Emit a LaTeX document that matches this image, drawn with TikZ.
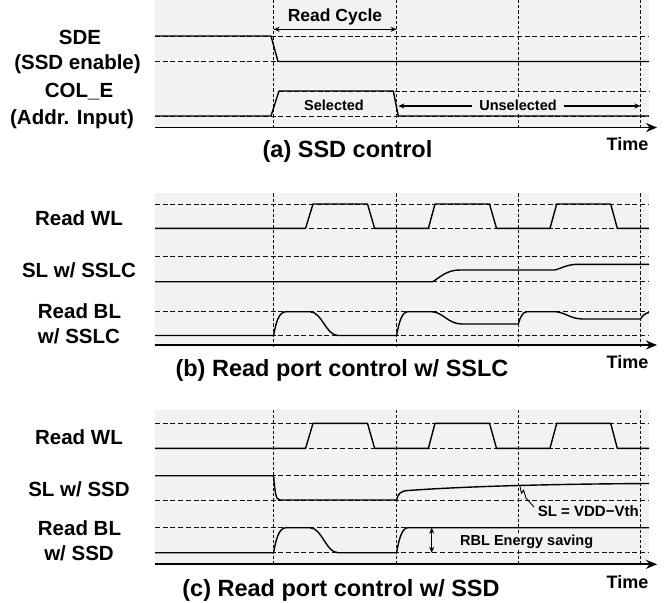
\documentclass[tikz,border=0pt]{standalone}
\usepackage{fontspec}
\setmainfont{Liberation Sans}
\usetikzlibrary{arrows.meta}
\definecolor{bggray}{HTML}{F2F2F2}
\definecolor{gridc}{HTML}{111111}
\tikzset{
  panel/.style={fill=bggray, draw=none},
  hgrid/.style={draw=gridc, line width=1pt, dash pattern=on 5pt off 2.7pt},
  vgrid/.style={draw=gridc, line width=0.85pt, dash pattern=on 3.2pt off 2pt},
  sig/.style={draw=black, line width=1.4pt, line join=round},
  thinsig/.style={draw=black, line width=0.9pt, line join=round},
  axisline/.style={draw=black, line width=1.8pt, -{Stealth[length=11pt,width=9pt]}},
  lbl/.style={font=\fontsize{20.5}{23}\selectfont\bfseries, inner sep=0pt, anchor=base},
  capt/.style={font=\fontsize{23.5}{26}\selectfont\bfseries, inner sep=0pt, anchor=base},
  timel/.style={font=\fontsize{18}{20}\selectfont\bfseries, inner sep=0pt, anchor=base},
  smalll/.style={font=\fontsize{14.5}{16}\selectfont\bfseries, inner sep=0pt, anchor=base},
  dimarrow/.style={line width=1.2pt, {Stealth[length=6pt,width=5pt]}-{Stealth[length=6pt,width=5pt]}},
}
\begin{document}
\begin{tikzpicture}[x=1pt,y=-1pt]
\useasboundingbox (0,0) rectangle (665,603);

% ---------- panels ----------
\fill[panel] (155,0) rectangle (649,127.5);
\fill[panel] (155,193.3) rectangle (649,345);
\fill[panel] (155,410) rectangle (649,564.3);

% ---------- vertical grid ----------
\foreach \x in {273.6,396.6,518.4,640.5}{
  \draw[vgrid] (\x,0) -- (\x,129.5);
  \draw[vgrid] (\x,193.3) -- (\x,347);
  \draw[vgrid] (\x,410) -- (\x,566);
}

% ---------- horizontal grid ----------
\foreach \y in {36,61.5,116,204,228.3,256.9,281.7,311.7,335.5,423.3,448.3,475.7,500,527.7,552.7}{
  \draw[hgrid] (155,\y) -- (649,\y);
}
\draw[hgrid] (279,91) -- (649,91);

% ---------- (a) SSD control ----------
\draw[sig] (155,36) -- (271,36) -- (278,61.5) -- (649,61.5);
\draw[sig] (155,116) -- (271,116) -- (279,91) -- (393.3,91) -- (398.3,116) -- (649,116);

\coordinate (rcL) at (273.6,29.3);
\coordinate (rcR) at (396.6,29.3);
\draw[dimarrow] (rcL) -- (rcR);
\node[font=\fontsize{17.5}{20}\selectfont\bfseries, inner sep=0pt, anchor=base] (readcycle) at (335,21.7) {Read Cycle};

\node[smalll] (selected) at (334,110) {Selected};
\coordinate (usL) at (398.3,106);
\coordinate (usR) at (640.5,106);
\draw[dimarrow] (usL) -- (usR);
\node[smalll, fill=bggray, inner xsep=7pt, inner ysep=2pt] (unselected) at (518,110.5) {Unselected};

\node[lbl] (sde) at (80,44) {SDE};
\node[lbl] (sden) at (77.5,69.6) {(SSD enable)};
\node[lbl] (cole) at (79,97.5) {COL\_E};
\node[lbl] (addr) at (72,124) {(Addr. Input)};

\coordinate (axAs) at (155,127.5);
\coordinate (axAe) at (657,127.5);
\draw[axisline] (axAs) -- (axAe);
\node[timel] (timeA) at (627.5,150.5) {Time};
\node[capt] (captA) at (347.5,157.3) {(a) SSD control};

% ---------- (b) Read port control w/ SSLC ----------
\draw[sig] (155,228.3) -- (305.6,228.3) -- (313,204) -- (367.5,204) -- (374.6,228.3)
  -- (428.4,228.3) -- (435,204) -- (489.5,204) -- (496.5,228.3)
  -- (550,228.3) -- (556.7,204) -- (610.7,204) -- (617.3,228.3) -- (649,228.3);

\draw[sig] (155,281.7) -- (432.7,281.7) .. controls (441,276.5) and (447,270) .. (460,270)
  -- (555,270) .. controls (563,267.5) and (568,264.3) .. (578.3,264.3) -- (649,264.3);

\draw[sig] (155,335.5) -- (273.6,335.5) .. controls (276,322) and (279,311.7) .. (286,311.7)
  -- (310,311.7) .. controls (322,312) and (326,335.5) .. (338,335.5)
  -- (396.6,335.5) .. controls (399,322) and (402,311.7) .. (408,311.7)
  -- (431.7,311.7) .. controls (443,312) and (448,324) .. (462,324)
  -- (518.4,324) .. controls (520,317) and (523,311.7) .. (527,311.7)
  -- (555,311.7) .. controls (565,312) and (570,319) .. (583,319)
  -- (640.5,319) .. controls (643,315) and (646,313) .. (649,312.5);

\node[lbl] (wlB) at (79,225) {Read WL};
\node[lbl] (slB) at (79,277.3) {SL w/ SSLC};
\node[lbl] (blB) at (79.5,318.3) {Read BL};
\node[lbl] (blB2) at (79,343.3) {w/ SSLC};

\coordinate (axBs) at (155,345);
\coordinate (axBe) at (657,345);
\draw[axisline] (axBs) -- (axBe);
\node[timel] (timeB) at (627.5,368.5) {Time};
\node[capt] (captB) at (342,376.5) {(b) Read port control w/ SSLC};

% ---------- (c) Read port control w/ SSD ----------
\draw[sig] (155,448.3) -- (305.6,448.3) -- (313,423.3) -- (367.5,423.3) -- (374.6,448.3)
  -- (428.4,448.3) -- (435,423.3) -- (489.5,423.3) -- (496.5,448.3)
  -- (550,448.3) -- (556.7,423.3) -- (610.7,423.3) -- (617.3,448.3) -- (649,448.3);

\draw[sig] (155,475.7) -- (273.6,475.7) .. controls (275,492) and (275.5,500) .. (280,500)
  -- (396.6,500) .. controls (398,494) and (400,491) .. (408,490.5)
  .. controls (470,486) and (560,484) .. (649,483.5);

\draw[thinsig] (519.8,485.5) -- (521.5,493.5) -- (523.5,490) -- (526,498) -- (534,507);

\draw[sig] (155,552.7) -- (273.6,552.7) .. controls (276,539) and (279,527.7) .. (286,527.7)
  -- (310,527.7) .. controls (322,528) and (326,552.7) .. (338,552.7)
  -- (396.6,552.7) .. controls (399,539) and (402,527.7) .. (408,527.7) -- (649,527.7);

\coordinate (rblT) at (431.7,527.7);
\coordinate (rblB) at (431.7,552.7);
\draw[dimarrow] (rblT) -- (rblB);
\node[smalll, fill=bggray, inner sep=1pt, anchor=base] (rbl) at (526.7,545) {RBL Energy saving};
\node[font=\fontsize{15}{17}\selectfont\bfseries, inner sep=0pt, anchor=base] (vth) at (588.3,516.7) {SL = VDD−Vth};

\node[lbl] (wlC) at (79,444) {Read WL};
\node[lbl] (slC) at (79,496.7) {SL w/ SSD};
\node[lbl] (blC) at (79.5,535) {Read BL};
\node[lbl] (blC2) at (79,560.3) {w/ SSD};

\coordinate (axCs) at (155,564.3);
\coordinate (axCe) at (657,564.3);
\draw[axisline] (axCs) -- (axCe);
\node[timel] (timeC) at (627.5,588.3) {Time};
\node[capt] (captC) at (341,596.7) {(c) Read port control w/ SSD};
\end{tikzpicture}
\end{document}
